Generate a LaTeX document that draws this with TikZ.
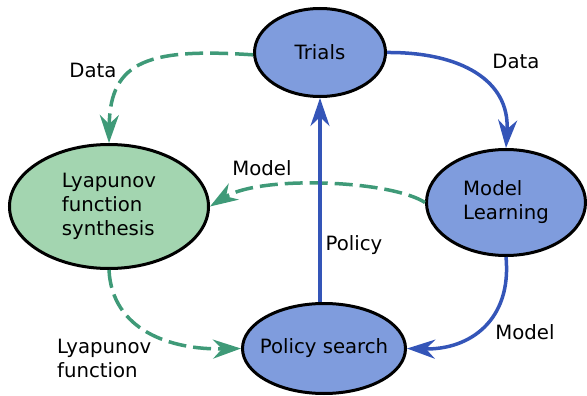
\documentclass[tikz,border=0pt]{standalone}
\usepackage{fontspec}
\setmainfont{DejaVu Sans}
\usetikzlibrary{shapes.geometric,arrows.meta}
\definecolor{bluefill}{HTML}{7F9CDD}
\definecolor{greenfill}{HTML}{A3D5B0}
\definecolor{blueline}{HTML}{3455B8}
\definecolor{greenline}{HTML}{3F9A78}
\begin{document}
\begin{tikzpicture}[x=1pt,y=-1pt,
  every node/.style={font=\fontsize{19.7}{24}\selectfont},
  stage/.style={ellipse,draw=black,line width=3pt,inner sep=0pt,align=left},
  bluestage/.style={stage,fill=bluefill},
  greenstage/.style={stage,fill=greenfill},
  tip/.style={-{Stealth[length=28pt,width=19pt,inset=9pt]}},
  solidlink/.style={tip,draw=blueline,line width=3.5pt},
  dashlink/.style={tip,draw=greenline,line width=3.5pt,dash pattern=on 18pt off 7pt},
  lbl/.style={align=left,inner sep=0pt}]
\useasboundingbox (0,0) rectangle (587,396);

% stages of the loop (the size is fixed by the minimum dimensions)
\node[bluestage, minimum width=131pt, minimum height=88pt] (trials) at (320,52.5) {Trials};
\node[bluestage, minimum width=159pt, minimum height=106pt] (learn) at (506,202.5) {Model\\Learning};
\node[greenstage, minimum width=199pt, minimum height=124pt] (lyap) at (109,206.5) {Lyapunov\\function\\synthesis};
\node[bluestage, inner xsep=-30pt, minimum width=163pt, minimum height=90pt] (search) at (324,348.5) {Policy search};

% data flow
\draw[dashlink] (trials.182) .. controls (150,48) and (110,60) .. (lyap.north);
\draw[solidlink] (trials.east) .. controls (460,52) and (510,80) .. (learn.north);
\draw[dashlink] (learn.west) .. controls (390,180) and (260,175) .. (lyap.east);
\draw[solidlink] (trials.south |- search.north) -- (trials.south);
\draw[solidlink] (learn.south) .. controls (512,320) and (470,350) .. (search.east);
\draw[dashlink] (lyap.south) .. controls (112,330) and (170,350) .. (search.west);

% labels on the links
\node[lbl] (ldata1) at (93,70) {Data};
\node[lbl] (ldata2) at (516,61) {Data};
\node[lbl] (lmodel1) at (262,168) {Model};
\node[lbl] (lpolicy) at (354,245) {Policy};
\node[lbl] (lmodel2) at (525,332) {Model};
\node[lbl,anchor=west] (llyap) at (57,358) {Lyapunov\\function};
\end{tikzpicture}
\end{document}
